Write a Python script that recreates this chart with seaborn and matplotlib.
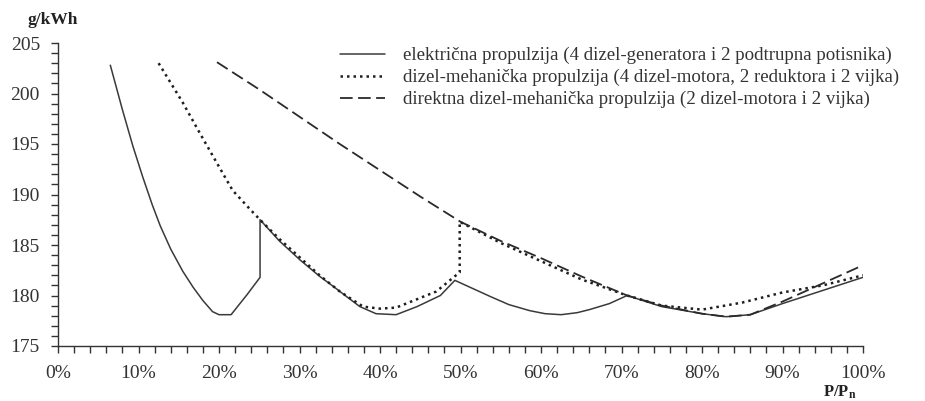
import numpy as np
import pandas as pd
import matplotlib
matplotlib.use("Agg")
import matplotlib.pyplot as plt
from matplotlib.ticker import MultipleLocator, FuncFormatter
import seaborn as sns

# ---- data ----
el_x = [6.5, 8.0, 9.3, 10.5, 11.7, 12.7, 14.0, 15.5, 16.8, 18.0, 19.2, 20.0, 21.5, 23.5, 25.1, 25.1,
        27.5, 30.1, 32.5, 34.2, 36.0, 37.5, 39.5, 42.0, 44.6, 47.5, 49.3,
        51.5, 53.7, 56.0, 58.6, 60.5, 62.5, 64.5, 66.0, 68.5, 70.7, 75.0, 80.0, 83.0, 86.0, 90.0, 95.0, 100.0]
el_y = [202.8, 198.4, 194.8, 191.8, 189.0, 186.9, 184.6, 182.4, 180.8, 179.5, 178.4, 178.1, 178.1, 180.1, 181.8, 187.5,
        185.4, 183.5, 181.9, 180.9, 179.8, 178.9, 178.2, 178.1, 178.9, 180.0, 181.5,
        180.7, 179.9, 179.1, 178.5, 178.2, 178.1, 178.3, 178.6, 179.2, 180.0, 178.9, 178.2, 177.9, 178.1, 179.2, 180.5, 181.8]

dm_x = [12.5, 15.5, 17.6, 19.75, 21.7, 23.9, 25.1, 27.5, 30.0, 32.5, 35.0, 37.9, 40.0, 42.0,
        44.5, 47.0, 49.9, 49.9, 55.0, 60.0, 65.0, 70.7, 75.0, 80.0, 85.0, 90.0, 95.0, 100.0]
dm_y = [203.0, 199.1, 196.1, 193.1, 190.4, 188.5, 187.5, 185.6, 183.8, 182.0, 180.4, 178.9, 178.7, 178.8,
        179.6, 180.4, 182.3, 187.3, 185.2, 183.4, 181.6, 180.0, 179.0, 178.6, 179.3, 180.3, 181.0, 182.0]

dd_x = [19.75, 25.0, 30.0, 35.0, 40.0, 45.0, 50.0, 55.0, 60.0, 65.0, 70.7, 75.0, 80.0, 83.0,
        86.0, 90.0, 95.0, 100.0]
dd_y = [203.1, 200.4, 197.7, 195.0, 192.4, 189.8, 187.3, 185.4, 183.7, 181.9, 180.0, 179.0, 178.2, 177.9,
        178.1, 179.4, 181.2, 183.0]

labels = ["električna propulzija (4 dizel-generatora i 2 podtrupna potisnika)",
          "dizel-mehanička propulzija (4 dizel-motora, 2 reduktora i 2 vijka)",
          "direktna dizel-mehanička propulzija (2 dizel-motora i 2 vijka)"]
x_ticks = [0, 10, 20, 30, 40, 50, 60, 70, 80, 90, 100]
y_ticks = [175, 180, 185, 190, 195, 200, 205]

# ---- style ----
sns.set_theme(style="ticks")
plt.rcParams["font.family"] = ["Liberation Serif", "DejaVu Serif"]
plt.rcParams["mathtext.fontset"] = "custom"
plt.rcParams["mathtext.rm"] = "Liberation Serif"
plt.rcParams["mathtext.bf"] = "Liberation Serif:bold"

fig = plt.figure(figsize=(9.25, 4.01), dpi=100)
ax = fig.add_axes([58 / 925, 1 - 346 / 401, (863 - 58) / 925, (346 - 43) / 401])

sns.lineplot(x=el_x, y=el_y, ax=ax, estimator=None, sort=False, color="#3a3a3a",
             linewidth=1.1, linestyle="-", label=labels[0])
sns.lineplot(x=dm_x, y=dm_y, ax=ax, estimator=None, sort=False, color="#1e1e1e",
             linewidth=1.8, linestyle=(0, (1.0, 1.6)), label=labels[1])
sns.lineplot(x=dd_x, y=dd_y, ax=ax, estimator=None, sort=False, color="#2a2a2a",
             linewidth=1.3, linestyle=(0, (7, 3)), label=labels[2])

ax.set_xlim(0, 100)
ax.set_ylim(175, 205)
ax.set_xticks(x_ticks)
ax.set_yticks(y_ticks)
ax.xaxis.set_minor_locator(MultipleLocator(2))
ax.yaxis.set_minor_locator(MultipleLocator(1))
ax.xaxis.set_major_formatter(FuncFormatter(lambda v, p: f"{int(round(v))}%"))
ax.yaxis.set_major_formatter(FuncFormatter(lambda v, p: f"{int(round(v))}"))
ax.tick_params(axis="both", which="both", direction="out", length=5, width=1.0,
               color="#333333", labelsize=14, labelcolor="#333333")
ax.tick_params(axis="x", which="major", pad=9)
ax.tick_params(axis="y", which="major", pad=8)
sns.despine(ax=ax)
for s in ("left", "bottom"):
    ax.spines[s].set_color("#333333")
    ax.spines[s].set_linewidth(1.0)
ax.set_xlabel("")
ax.set_ylabel("")

fig.text(53 / 925, 1 - 20 / 401, "g/kWh", ha="center", va="center",
         fontsize=12.5, fontweight="bold", color="#222222")
fig.text(840 / 925, 1 - 392 / 401, r"$\mathbf{P/P_n}$", ha="center", va="center",
         fontsize=12, color="#222222")

ax.get_legend().remove()
handles, labs = ax.get_legend_handles_labels()
fig.legend(handles, labs, loc="upper left", bbox_to_anchor=(340 / 925, 1 - 47 / 401),
           frameon=False, fontsize=13.6, handlelength=2.4, handletextpad=0.95,
           labelspacing=0.25, borderpad=0, borderaxespad=0, labelcolor="#333333")

fig.savefig("out.png", dpi=100)
